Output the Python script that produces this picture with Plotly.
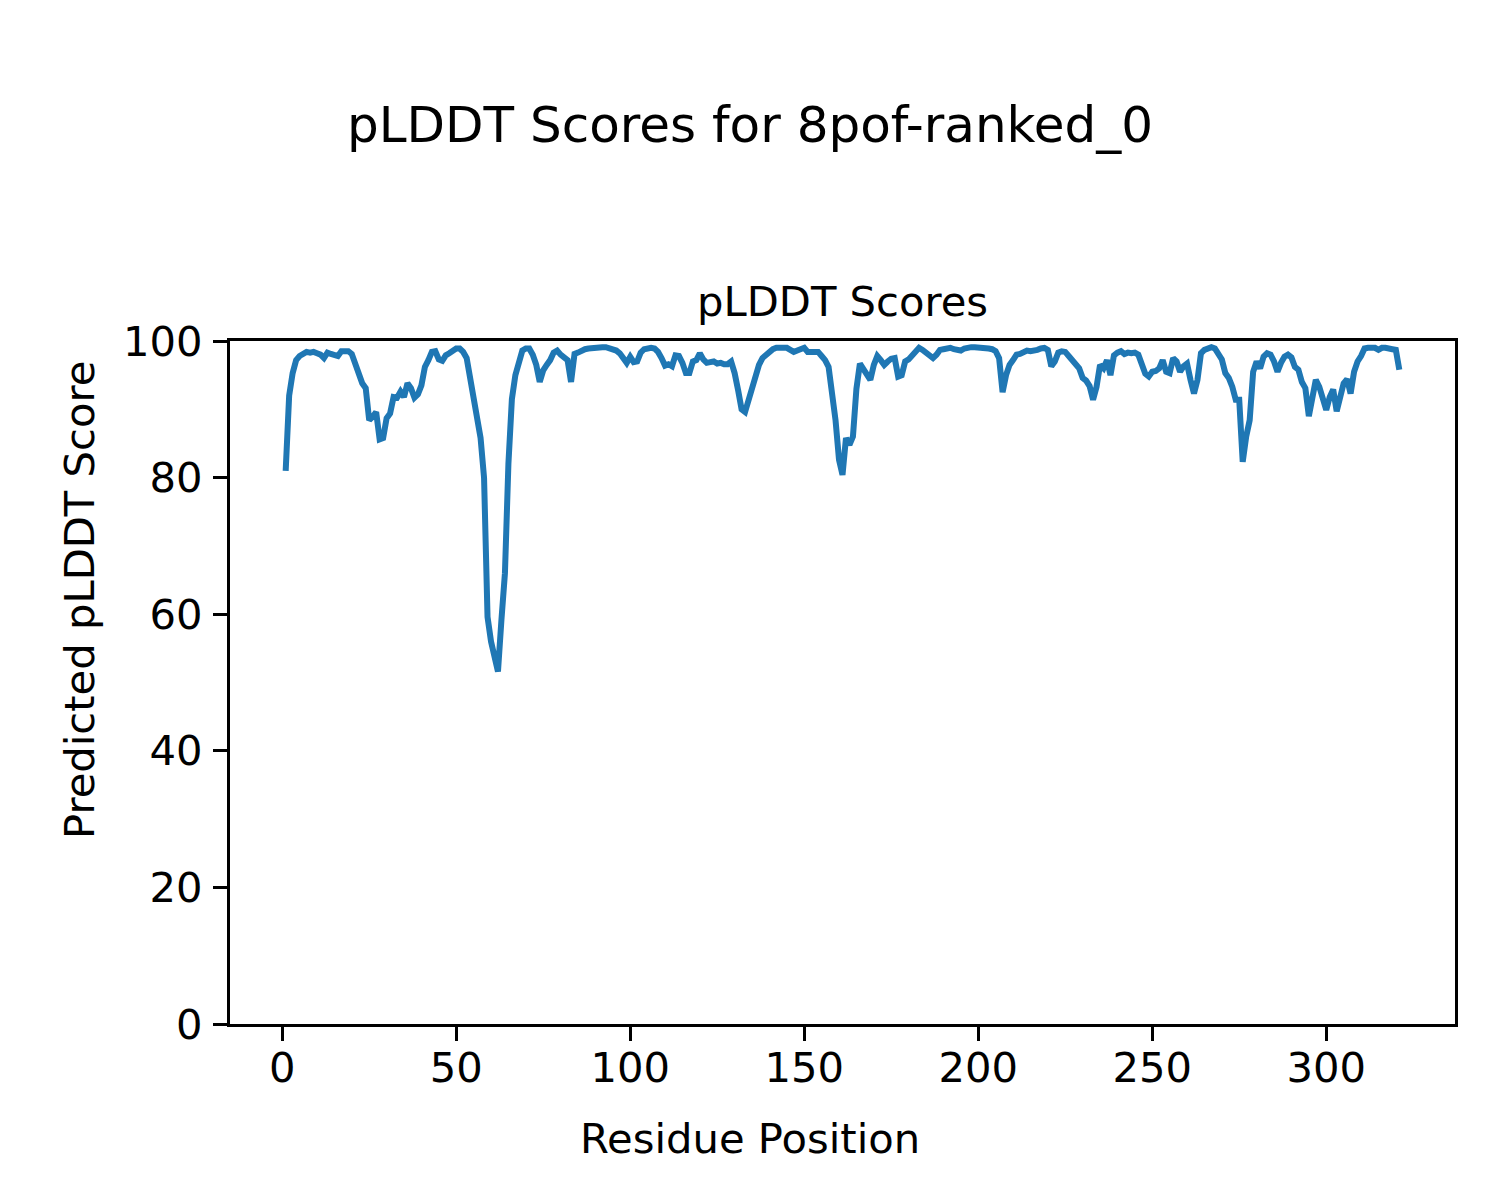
import plotly.graph_objects as go

# Residue positions 1..321
residues = list(range(1, 322))

plddt = [
    81.0, 92.0, 95.3, 97.2, 97.8, 98.0, 98.4, 98.3, 98.4, 98.2,
    98.0, 97.5, 98.3, 98.1, 98.0, 97.8, 98.5, 98.6, 98.5, 98.1,
    96.7, 95.0, 93.8, 93.1, 88.4, 88.9, 89.6, 85.6, 85.8, 88.7,
    89.4, 91.8, 91.7, 92.6, 91.8, 93.8, 93.1, 91.7, 92.2, 93.5,
    96.2, 97.2, 98.4, 98.5, 97.3, 97.1, 97.9, 98.2, 98.7, 98.9,
    98.9, 98.4, 97.5, 94.8, 91.5, 88.9, 85.8, 80.0, 59.6, 56.0,
    53.8, 51.6, 59.2, 66.0, 82.0, 91.5, 95.0, 97.0, 98.6, 98.9,
    98.9, 98.0, 96.5, 94.0, 95.7, 96.5, 97.2, 98.3, 98.6, 98.0,
    97.7, 97.2, 94.0, 98.1, 98.3, 98.6, 98.8, 98.9, 99.0, 99.1,
    99.1, 99.1, 99.1, 99.0, 98.8, 98.6, 98.2, 97.6, 96.8, 97.7,
    96.9, 97.0, 98.3, 98.8, 99.0, 99.0, 98.9, 98.4, 97.5, 96.4,
    96.6, 96.3, 97.9, 97.8, 96.8, 95.3, 95.3, 97.0, 97.2, 98.2,
    97.3, 96.8, 96.9, 97.0, 96.7, 96.8, 96.6, 96.6, 97.0, 95.3,
    92.8, 90.0, 89.6, 91.4, 93.6, 95.5, 96.5, 97.5, 98.0, 98.5,
    98.8, 99.0, 99.0, 99.0, 99.0, 98.7, 98.4, 98.6, 98.9, 99.0,
    98.4, 98.4, 98.4, 98.4, 97.8, 97.2, 96.2, 92.8, 88.4, 82.6,
    80.4, 85.8, 84.8, 86.0, 93.0, 96.7, 96.0, 95.3, 94.3, 96.5,
    97.8, 97.2, 96.5, 97.0, 97.4, 97.5, 94.8, 95.0, 97.0, 97.3,
    97.8, 98.5, 99.0, 98.7, 98.3, 97.9, 97.5, 98.0, 98.7, 98.8,
    98.9, 99.0, 98.8, 98.7, 98.6, 98.9, 99.1, 99.1, 99.1, 99.1,
    99.1, 99.0, 98.9, 98.8, 98.5, 97.5, 92.5, 95.0, 96.5, 97.2,
    98.0, 98.1, 98.4, 98.6, 98.5, 98.5, 98.7, 98.9, 99.0, 98.7,
    96.3, 97.0, 98.3, 98.5, 98.4, 97.8, 97.3, 96.7, 96.0, 94.6,
    94.2, 93.4, 91.4, 93.3, 96.5, 96.0, 97.2, 95.0, 97.9, 98.3,
    98.5, 98.1, 98.3, 98.2, 98.3, 98.0, 96.5, 95.2, 94.8, 95.5,
    95.6, 96.0, 97.2, 95.5, 95.3, 97.5, 97.0, 95.5, 96.3, 96.7,
    94.3, 92.3, 94.3, 98.2, 98.7, 98.9, 99.1, 98.9, 97.9, 97.3,
    95.3, 94.6, 93.3, 91.4, 91.4, 82.3, 86.0, 88.4, 95.5, 97.0,
    96.0, 97.7, 98.2, 98.0, 97.0, 95.5, 96.8, 97.7, 98.0, 97.6,
    96.2, 95.8, 94.0, 93.1, 89.0, 91.8, 94.3, 93.3, 91.6, 89.9,
    91.8, 92.9, 89.7, 91.4, 93.8, 94.4, 92.3, 95.5, 97.0, 97.8,
    98.9, 99.0, 99.1, 99.0, 98.7, 99.0, 99.0, 99.0, 98.8, 98.7,
    95.8,
]

x_ticks = [0, 50, 100, 150, 200, 250, 300]
y_ticks = [0, 20, 40, 60, 80, 100]

suptitle = "pLDDT Scores for 8pof-ranked_0"
subtitle = "pLDDT Scores"
x_label = "Residue Position"
y_label = "Predicted pLDDT Score"

FONT = "DejaVu Sans"

fig = go.Figure()
fig.add_trace(go.Scatter(
    x=residues, y=plddt, mode="lines",
    line=dict(color="#1f77b4", width=6),
    showlegend=False, hoverinfo="x+y",
))

axis_common = dict(
    showgrid=False, zeroline=False,
    showline=True, linecolor="black", linewidth=3.3, mirror=True,
    ticks="outside", ticklen=14, tickwidth=3.3, tickcolor="black",
    tickfont=dict(family=FONT, size=41.7, color="black"),
)

fig.update_xaxes(range=[-15, 337], tickvals=x_ticks,
                 ticktext=[str(v) for v in x_ticks],
                 ticklabelstandoff=-9, **axis_common)
fig.update_yaxes(range=[0, 100], tickvals=y_ticks,
                 ticktext=[str(v) for v in y_ticks],
                 ticklabelstandoff=2, **axis_common)

L, R, T, B = 230, 45, 341, 176
W, H = 1500, 1200
pw = W - L - R
ph = H - T - B

def px_x(px):
    return (px - L) / pw

def px_y(py):
    return (H - B - py) / ph

annotations = [
    dict(text=suptitle, x=px_x(750), y=px_y(125), xref="paper", yref="paper",
         xanchor="center", yanchor="middle", showarrow=False,
         font=dict(family=FONT, size=50, color="black")),
    dict(text=subtitle, x=px_x(842.5), y=px_y(302), xref="paper", yref="paper",
         xanchor="center", yanchor="middle", showarrow=False,
         font=dict(family=FONT, size=41.7, color="black")),
    dict(text=x_label, x=px_x(750), y=px_y(1138), xref="paper", yref="paper",
         xanchor="center", yanchor="middle", showarrow=False,
         font=dict(family=FONT, size=41.7, color="black")),
    dict(text=y_label, x=px_x(79), y=px_y(600), xref="paper", yref="paper",
         xanchor="center", yanchor="middle", showarrow=False, textangle=-90,
         font=dict(family=FONT, size=41.7, color="black")),
]

fig.update_layout(
    width=W, height=H,
    margin=dict(l=L, r=R, t=T, b=B, pad=0),
    paper_bgcolor="white", plot_bgcolor="white",
    font=dict(family=FONT, color="black"),
    annotations=annotations,
)

fig.write_html("out.html", config={"displayModeBar": False},
               post_script="document.body.style.margin='0px';")
